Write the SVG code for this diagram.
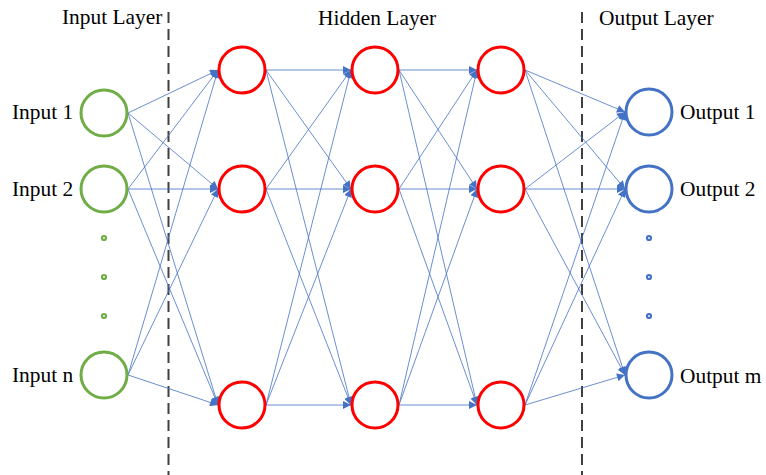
<svg xmlns="http://www.w3.org/2000/svg" width="766" height="475" viewBox="0 0 766 475">
<style>
text{font-family:"Liberation Serif","Times New Roman",serif;font-size:21.4px;fill:#000}
.in{fill:#fff;stroke:#70AD47;stroke-width:3}
.hid{fill:#fff;stroke:#FF0000;stroke-width:3}
.out{fill:#fff;stroke:#4472C4;stroke-width:3}
.c line{stroke:#4472C4;stroke-width:0.8;marker-end:url(#ah)}
.dash{stroke:#404040;stroke-width:2;stroke-dasharray:11 6}
</style>
<defs>
<marker id="ah" viewBox="0 0 10 10" refX="10" refY="5" markerWidth="10" markerHeight="8" markerUnits="userSpaceOnUse" orient="auto">
<path d="M0,0 L10,5 L0,10 z" fill="#4472C4"/>
</marker>
</defs>
<rect width="766" height="475" fill="#fff"/>
<g id="dividers">
<line class="dash" x1="168.5" y1="12" x2="168.5" y2="475"/>
<line class="dash" x1="582" y1="12" x2="582" y2="475"/>
</g>
<g id="labels">
<text x="62" y="24">Input Layer</text>
<text x="318" y="25">Hidden Layer</text>
<text x="599" y="25">Output Layer</text>
</g>
<g class="c" id="connectors">
<line x1="128" y1="113" x2="218" y2="70"/>
<line x1="128" y1="113" x2="218" y2="189"/>
<line x1="128" y1="113" x2="218" y2="405"/>
<line x1="128" y1="189" x2="218" y2="70"/>
<line x1="128" y1="189" x2="218" y2="189"/>
<line x1="128" y1="189" x2="218" y2="405"/>
<line x1="128" y1="375" x2="218" y2="70"/>
<line x1="128" y1="375" x2="218" y2="189"/>
<line x1="128" y1="375" x2="218" y2="405"/>
<line x1="266" y1="70" x2="351" y2="70"/>
<line x1="266" y1="70" x2="351" y2="189"/>
<line x1="266" y1="70" x2="351" y2="405"/>
<line x1="266" y1="189" x2="351" y2="70"/>
<line x1="266" y1="189" x2="351" y2="189"/>
<line x1="266" y1="189" x2="351" y2="405"/>
<line x1="266" y1="405" x2="351" y2="70"/>
<line x1="266" y1="405" x2="351" y2="189"/>
<line x1="266" y1="405" x2="351" y2="405"/>
<line x1="399" y1="70" x2="477" y2="70"/>
<line x1="399" y1="70" x2="477" y2="189"/>
<line x1="399" y1="70" x2="477" y2="405"/>
<line x1="399" y1="189" x2="477" y2="70"/>
<line x1="399" y1="189" x2="477" y2="189"/>
<line x1="399" y1="189" x2="477" y2="405"/>
<line x1="399" y1="405" x2="477" y2="70"/>
<line x1="399" y1="405" x2="477" y2="189"/>
<line x1="399" y1="405" x2="477" y2="405"/>
<line x1="525" y1="70" x2="625" y2="112"/>
<line x1="525" y1="70" x2="625" y2="189"/>
<line x1="525" y1="70" x2="625" y2="375"/>
<line x1="525" y1="189" x2="625" y2="112"/>
<line x1="525" y1="189" x2="625" y2="189"/>
<line x1="525" y1="189" x2="625" y2="375"/>
<line x1="525" y1="405" x2="625" y2="112"/>
<line x1="525" y1="405" x2="625" y2="189"/>
<line x1="525" y1="405" x2="625" y2="375"/>
</g>
<g id="input1"><circle class="in" cx="104" cy="113" r="23"/><text x="12" y="119">Input 1</text></g>
<g id="input2"><circle class="in" cx="104" cy="189" r="23"/><text x="12" y="196">Input 2</text></g>
<g id="input-dots" fill="#fff" stroke="#70AD47" stroke-width="2.2"><circle cx="104" cy="238" r="2"/><circle cx="104" cy="277" r="2"/><circle cx="104" cy="316" r="2"/></g>
<g id="inputn"><circle class="in" cx="104" cy="375" r="23"/><text x="12" y="382">Input n</text></g>
<g id="h11"><circle class="hid" cx="242" cy="70" r="23"/></g>
<g id="h12"><circle class="hid" cx="242" cy="189" r="23"/></g>
<g id="h13"><circle class="hid" cx="242" cy="405" r="23"/></g>
<g id="h21"><circle class="hid" cx="375" cy="70" r="23"/></g>
<g id="h22"><circle class="hid" cx="375" cy="189" r="23"/></g>
<g id="h23"><circle class="hid" cx="375" cy="405" r="23"/></g>
<g id="h31"><circle class="hid" cx="501" cy="70" r="23"/></g>
<g id="h32"><circle class="hid" cx="501" cy="189" r="23"/></g>
<g id="h33"><circle class="hid" cx="501" cy="405" r="23"/></g>
<g id="output1"><circle class="out" cx="649" cy="112" r="23"/><text x="680" y="119">Output 1</text></g>
<g id="output2"><circle class="out" cx="649" cy="189" r="23"/><text x="680" y="196">Output 2</text></g>
<g id="output-dots" fill="#fff" stroke="#4472C4" stroke-width="2.2"><circle cx="649" cy="238" r="2"/><circle cx="649" cy="277" r="2"/><circle cx="649" cy="316" r="2"/></g>
<g id="outputm"><circle class="out" cx="649" cy="375" r="23"/><text x="680" y="383">Output m</text></g>
</svg>
